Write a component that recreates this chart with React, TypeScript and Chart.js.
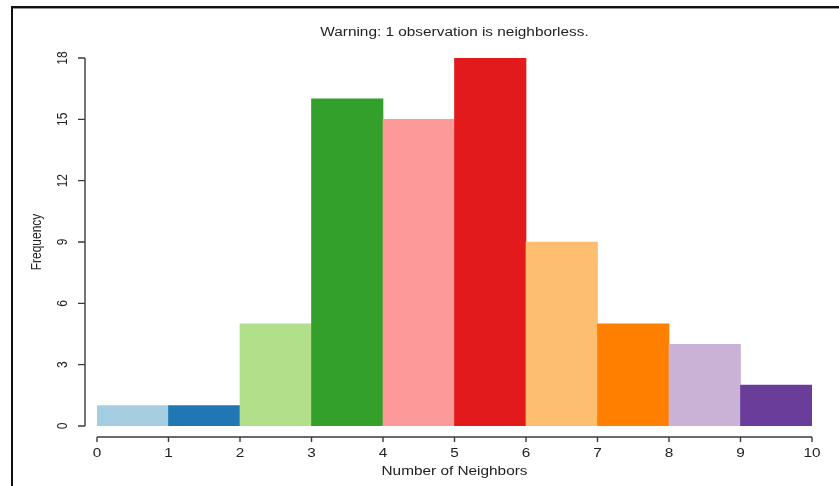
import React, { useEffect, useRef } from "react";
import { Chart, registerables } from "chart.js";

Chart.register(...registerables);

const binStarts = [0, 1, 2, 3, 4, 5, 6, 7, 8, 9];
const frequencies = [1, 1, 5, 16, 15, 18, 9, 5, 4, 2];
const barColors = [
  "#A6CEE3", "#1F78B4", "#B2DF8A", "#33A02C", "#FB9A99",
  "#E31A1C", "#FDBF6F", "#FF7F00", "#CAB2D6", "#6A3D9A",
];
const xTicks = [0, 1, 2, 3, 4, 5, 6, 7, 8, 9, 10];
const yTicks = [0, 3, 6, 9, 12, 15, 18];
const titleText = "Warning: 1 observation is neighborless.";
const xTitle = "Number of Neighbors";
const yTitle = "Frequency";

const FONT = '12px "Liberation Sans", Arial, sans-serif';
const STRETCH = 1.28;

const rAxesPlugin = {
  id: "rAxes",
  afterDraw(chart: any) {
    const ctx = chart.ctx as CanvasRenderingContext2D;
    const xs = chart.scales.x;
    const ys = chart.scales.y;
    const axisColor = "#3a3a3a";
    const textColor = "#222";
    ctx.save();
    ctx.strokeStyle = axisColor;
    ctx.lineWidth = 1.4;
    ctx.font = FONT;
    ctx.fillStyle = textColor;

    // x axis
    const xAxisY = ys.getPixelForValue(0) + 11;
    const x0 = xs.getPixelForValue(xTicks[0]);
    const x1 = xs.getPixelForValue(xTicks[xTicks.length - 1]);
    ctx.beginPath();
    ctx.moveTo(x0, xAxisY);
    ctx.lineTo(x1, xAxisY);
    for (const t of xTicks) {
      const px = xs.getPixelForValue(t);
      ctx.moveTo(px, xAxisY);
      ctx.lineTo(px, xAxisY + 5);
    }
    ctx.stroke();
    ctx.textAlign = "center";
    ctx.textBaseline = "middle";
    for (const t of xTicks) {
      const px = xs.getPixelForValue(t);
      ctx.save();
      ctx.translate(px, xAxisY + 17);
      ctx.scale(STRETCH, 1);
      ctx.fillText(String(t), 0, 0);
      ctx.restore();
    }

    // y axis
    const yAxisX = xs.getPixelForValue(0) - 12;
    const y0 = ys.getPixelForValue(yTicks[0]);
    const y1 = ys.getPixelForValue(yTicks[yTicks.length - 1]);
    ctx.beginPath();
    ctx.moveTo(yAxisX, y0);
    ctx.lineTo(yAxisX, y1);
    for (const t of yTicks) {
      const py = ys.getPixelForValue(t);
      ctx.moveTo(yAxisX, py);
      ctx.lineTo(yAxisX - 7, py);
    }
    ctx.stroke();
    for (const t of yTicks) {
      const py = ys.getPixelForValue(t);
      ctx.save();
      ctx.translate(yAxisX - 22, py);
      ctx.rotate(-Math.PI / 2);
      ctx.scale(1, STRETCH);
      ctx.fillText(String(t), 0, 0);
      ctx.restore();
    }

    // titles
    const cx = (x0 + x1) / 2;
    ctx.save();
    ctx.translate(cx, xAxisY + 35);
    ctx.scale(STRETCH, 1);
    ctx.fillText(xTitle, 0, 0);
    ctx.restore();

    ctx.save();
    ctx.translate(cx, 33);
    ctx.scale(STRETCH, 1);
    ctx.fillText(titleText, 0, 0);
    ctx.restore();

    ctx.save();
    ctx.translate(yAxisX - 48, (y0 + y1) / 2);
    ctx.rotate(-Math.PI / 2);
    ctx.scale(1, STRETCH);
    ctx.fillText(yTitle, 0, 0);
    ctx.restore();

    ctx.restore();
  },
};

export default function App() {
  const canvasRef = useRef<HTMLCanvasElement | null>(null);

  useEffect(() => {
    if (!canvasRef.current) return;
    const chart = new Chart(canvasRef.current, {
      type: "bar",
      data: {
        datasets: [
          {
            data: binStarts.map((b, i) => ({ x: b + 0.5, y: frequencies[i] })),
            backgroundColor: barColors,
            borderWidth: 0,
            barPercentage: 1,
            categoryPercentage: 1,
          },
        ],
      },
      options: {
        responsive: false,
        animation: false,
        layout: { padding: { left: 97, right: 27, top: 58, bottom: 60 } },
        scales: {
          x: { type: "linear", min: 0, max: 10, offset: false, display: false, ticks: { stepSize: 1 } },
          y: { min: 0, max: 18, display: false, ticks: { stepSize: 3 } },
        },
        plugins: { legend: { display: false }, tooltip: { enabled: false } },
      },
      plugins: [rAxesPlugin],
    } as any);
    return () => chart.destroy();
  }, []);

  return (
    <div style={{ position: "fixed", left: 0, top: 0, width: 839, height: 486, background: "#fff" }}>
      <div
        style={{
          position: "absolute",
          left: 11,
          top: 6,
          right: 0,
          bottom: 0,
          borderTop: "2px solid #111",
          borderLeft: "2px solid #111",
          boxShadow: "inset 0 1px 0 #999",
        }}
      />
      <canvas ref={canvasRef} width={839} height={486} style={{ position: "absolute", left: 0, top: 0, display: "block" }} />
    </div>
  );
}
